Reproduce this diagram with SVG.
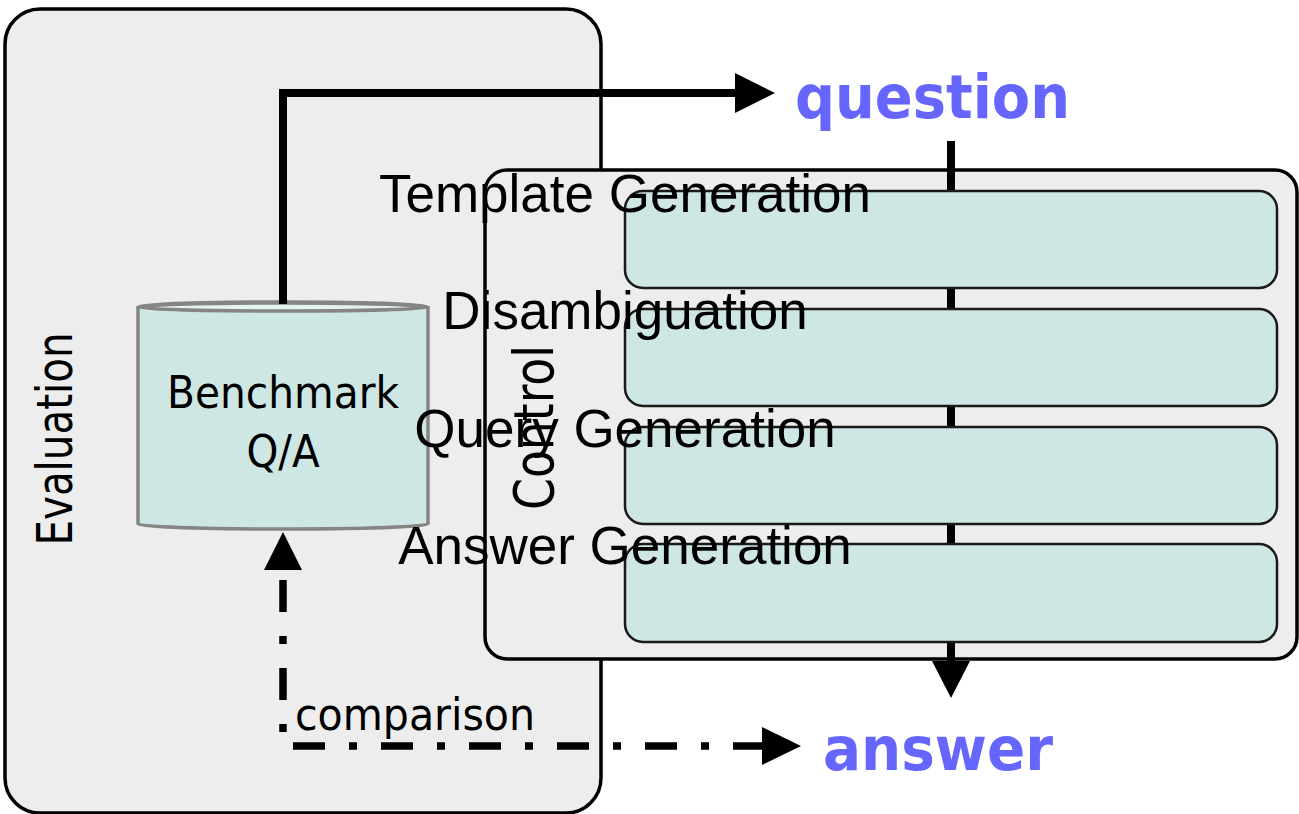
<svg xmlns="http://www.w3.org/2000/svg" width="1299" height="814" viewBox="0 0 1299 814">
<style>
.panel{fill:#ededed;stroke:#000;stroke-width:3.5}
.step{fill:#cfe7e4;stroke:#1a1a1a;stroke-width:2.5}
.steplbl{font-family:"Liberation Sans",Arial,sans-serif;font-size:53px;fill:#000;text-anchor:middle}
.lbl{font-family:"DejaVu Sans Condensed","DejaVu Sans",sans-serif;fill:#000}
.io{font-family:"DejaVu Sans",sans-serif;font-weight:bold;font-size:60px;fill:#6666ff}
.solid{fill:none;stroke:#000;stroke-width:8}
.dashdot{fill:none;stroke:#000;stroke-width:7.5;stroke-dasharray:32 24 8 24}
</style>
<rect width="1299" height="814" fill="#fff"/>
<g id="evaluation">
<rect class="panel" x="5" y="9" width="596" height="804" rx="35"/>
<text class="lbl" font-size="50" text-anchor="middle" textLength="213" lengthAdjust="spacingAndGlyphs" transform="translate(72,439) rotate(-90)">Evaluation</text>
</g>
<g id="benchmark">
<path d="M138,307 L138,524 A145,5 0 0 0 428,524 L428,307 A145,5 0 0 0 138,307 Z" fill="#cfe7e4" stroke="#858585" stroke-width="3.5"/>
<ellipse cx="283" cy="307" rx="145" ry="4" fill="#e4f2f0" stroke="#858585" stroke-width="3.5"/>
<text class="lbl" font-size="45" text-anchor="middle" x="283" y="408" textLength="232" lengthAdjust="spacingAndGlyphs">Benchmark</text>
<text class="lbl" font-size="45" text-anchor="middle" x="283" y="467">Q/A</text>
</g>
<g id="control">
<rect class="panel" x="485" y="170" width="812" height="489" rx="22"/>
</g>
<g id="connectors">
<line class="solid" x1="951" y1="141" x2="951" y2="662"/>
<polygon points="932,661 970,661 951,698" fill="#000"/>
<path class="solid" d="M283,304 V93 H737"/>
<polygon points="735,73 775,93 735,113" fill="#000"/>
<line class="dashdot" x1="283" y1="745" x2="283" y2="570" stroke-dashoffset="43"/>
<polygon points="264,570 302,570 283,532" fill="#000"/>
<line class="dashdot" x1="293" y1="746" x2="763" y2="746"/>
<polygon points="762,727 801,746 762,765" fill="#000"/>
</g>
<g id="template-generation">
<rect class="step" x="625" y="191" width="652" height="97" rx="18"/>
<text class="steplbl" x="625" y="212">Template Generation</text>
</g>
<g id="disambiguation">
<rect class="step" x="625" y="309" width="652" height="97" rx="18"/>
<text class="steplbl" x="625" y="329">Disambiguation</text>
</g>
<g id="query-generation">
<rect class="step" x="625" y="427" width="652" height="97" rx="18"/>
<text class="steplbl" x="625" y="447">Query Generation</text>
</g>
<g id="answer-generation">
<rect class="step" x="625" y="544" width="652" height="98" rx="18"/>
<text class="steplbl" x="625" y="564">Answer Generation</text>
</g>
<g id="control-label">
<text class="lbl" font-size="55" text-anchor="middle" textLength="165" lengthAdjust="spacingAndGlyphs" transform="translate(553,427.5) rotate(-90)">Control</text>
</g>
<g id="comparison-label">
<text class="lbl" font-size="45" x="295" y="730" textLength="240" lengthAdjust="spacingAndGlyphs">comparison</text>
</g>
<g id="question">
<text class="io" x="795" y="118" textLength="275" lengthAdjust="spacingAndGlyphs">question</text>
</g>
<g id="answer">
<text class="io" x="823" y="770" textLength="230" lengthAdjust="spacingAndGlyphs">answer</text>
</g>
</svg>
